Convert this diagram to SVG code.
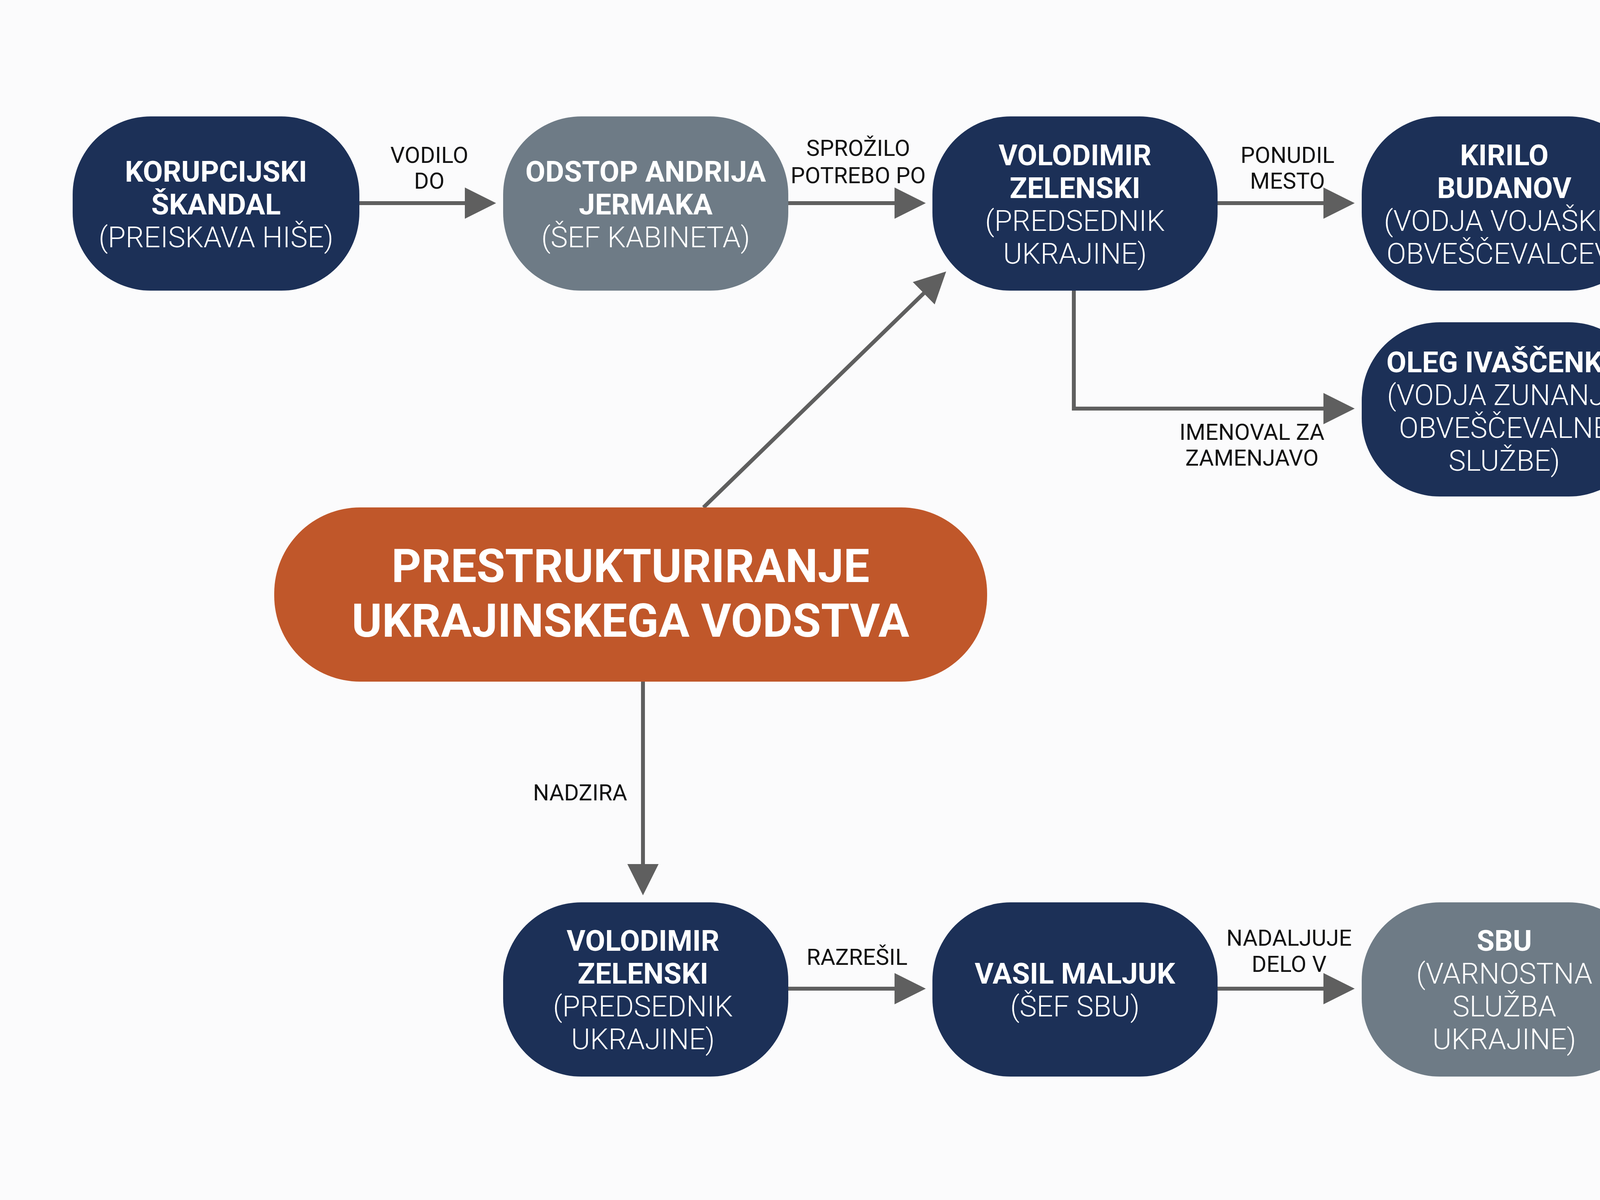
<svg xmlns="http://www.w3.org/2000/svg" width="5504" height="3072" viewBox="0 0 5504 3072">
<style>
text{font-family:Roboto,"Liberation Sans",sans-serif;text-anchor:middle;dominant-baseline:central}
.n{fill:#1c3057}.g{fill:#6e7b86}.o{fill:#c0572a}
.t{fill:#fff;font-size:74px}.b{font-weight:700}.r{font-weight:300}
.l{fill:#111;font-size:58px}
.c{stroke:#5f5f5f;stroke-width:10;fill:none;marker-end:url(#a)}
</style>
<defs><marker id="a" markerWidth="8" markerHeight="8" refX="7" refY="4" orient="auto" markerUnits="strokeWidth"><path d="M0,0L8,4L0,8z" fill="#5f5f5f"/></marker></defs>
<rect width="5504" height="3072" fill="#fbfbfc"/>
<g id="connectors">
<path class="c" d="M920,520H1260"/><path class="c" d="M2018,520H2360"/><path class="c" d="M3117,520H3458"/><path class="c" d="M4216,520H4560"/>
<path class="c" d="M1801,1299L2415,702"/>
<path class="c" d="M2749,744V1046H3458"/><path class="c" d="M4216,1046H4560"/>
<path class="c" d="M1646,1745V2282"/>
<path class="c" d="M2018,2531H2360"/><path class="c" d="M3117,2531H3458"/><path class="c" d="M4216,2531H4560"/>
<text class="l" x="1099" y="397">VODILO</text><text class="l" x="1099" y="463">DO</text>
<text class="l" x="2197" y="379">SPROŽILO</text><text class="l" x="2197" y="449">POTREBO PO</text>
<text class="l" x="3296" y="397">PONUDIL</text><text class="l" x="3296" y="463">MESTO</text>
<text class="l" x="4391" y="386">PREVZEM</text><text class="l" x="4391" y="456">FUNKCIJE</text>
<text class="l" x="3205" y="1106">IMENOVAL ZA</text><text class="l" x="3205" y="1172">ZAMENJAVO</text>
<text class="l" x="4391" y="909">PREVZEM</text><text class="l" x="4391" y="979">VODENJA</text>
<text class="l" x="1485" y="2029">NADZIRA</text>
<text class="l" x="2194" y="2450">RAZREŠIL</text>
<text class="l" x="3300" y="2401">NADALJUJE</text><text class="l" x="3300" y="2468">DELO V</text>
<text class="l" x="4391" y="2450">FOKUS NA</text>
</g>
<g id="n1"><rect class="n" x="186" y="298" width="734" height="446" rx="200"/><text class="t b" x="553" y="439">KORUPCIJSKI</text><text class="t b" x="553" y="523">ŠKANDAL</text><text class="t r" x="553" y="607">(PREISKAVA HIŠE)</text></g>
<g id="n2"><rect class="g" x="1288" y="298" width="730" height="446" rx="200"/><text class="t b" x="1653" y="439">ODSTOP ANDRIJA</text><text class="t b" x="1653" y="523">JERMAKA</text><text class="t r" x="1653" y="607">(ŠEF KABINETA)</text></g>
<g id="n3"><rect class="n" x="2387" y="298" width="730" height="446" rx="200"/><text class="t b" x="2752" y="397">VOLODIMIR</text><text class="t b" x="2752" y="481">ZELENSKI</text><text class="t r" x="2752" y="565">(PREDSEDNIK</text><text class="t r" x="2752" y="649">UKRAJINE)</text></g>
<g id="n4"><rect class="n" x="3486" y="298" width="730" height="446" rx="200"/><text class="t b" x="3851" y="397">KIRILO</text><text class="t b" x="3851" y="481">BUDANOV</text><text class="t r" x="3851" y="565">(VODJA VOJAŠKIH</text><text class="t r" x="3851" y="649">OBVEŠČEVALCEV)</text></g>
<g id="n5"><rect class="g" x="4588" y="298" width="730" height="446" rx="200"/><text class="t b" x="4953" y="439">NOVI ŠEF</text><text class="t b" x="4953" y="523">KABINETA</text><text class="t b" x="4953" y="607">PREDSEDNIKA</text></g>
<g id="n6"><rect class="n" x="3486" y="825" width="730" height="446" rx="200"/><text class="t b" x="3851" y="927">OLEG IVAŠČENKO</text><text class="t r" x="3851" y="1011">(VODJA ZUNANJE</text><text class="t r" x="3851" y="1095">OBVEŠČEVALNE</text><text class="t r" x="3851" y="1179">SLUŽBE)</text></g>
<g id="n7"><rect class="g" x="4588" y="825" width="730" height="446" rx="200"/><text class="t b" x="4953" y="920">NOVI VODJA</text><text class="t b" x="4953" y="1004">VOJAŠKE</text><text class="t b" x="4953" y="1088">OBVEŠČEVALNE</text><text class="t b" x="4953" y="1172">SLUŽBE</text></g>
<g id="center"><rect class="o" x="702" y="1299" width="1825" height="446" rx="220"/><text class="b" fill="#fff" font-size="118" x="1614" y="1450">PRESTRUKTURIRANJE</text><text class="b" fill="#fff" font-size="118" x="1614" y="1590">UKRAJINSKEGA VODSTVA</text></g>
<g id="n8"><rect class="n" x="1288" y="2310" width="730" height="446" rx="200"/><text class="t b" x="1646" y="2408">VOLODIMIR</text><text class="t b" x="1646" y="2492">ZELENSKI</text><text class="t r" x="1646" y="2576">(PREDSEDNIK</text><text class="t r" x="1646" y="2660">UKRAJINE)</text></g>
<g id="n9"><rect class="n" x="2387" y="2310" width="730" height="446" rx="200"/><text class="t b" x="2752" y="2492">VASIL MALJUK</text><text class="t r" x="2752" y="2576">(ŠEF SBU)</text></g>
<g id="n10"><rect class="g" x="3486" y="2310" width="730" height="446" rx="200"/><text class="t b" x="3851" y="2408">SBU</text><text class="t r" x="3851" y="2492">(VARNOSTNA</text><text class="t r" x="3851" y="2576">SLUŽBA</text><text class="t r" x="3851" y="2660">UKRAJINE)</text></g>
<g id="n11"><rect class="g" x="4588" y="2310" width="730" height="446" rx="200"/><text class="t b" x="4953" y="2408">IZVAJANJE</text><text class="t b" x="4953" y="2492">ASIMETRIČNIH</text><text class="t" x="4953" y="2576"><tspan class="b">OPERACIJ</tspan><tspan class="r"> PROTI</tspan></text><text class="t r" x="4953" y="2660">RUSKIM SILAM</text></g>
</svg>
